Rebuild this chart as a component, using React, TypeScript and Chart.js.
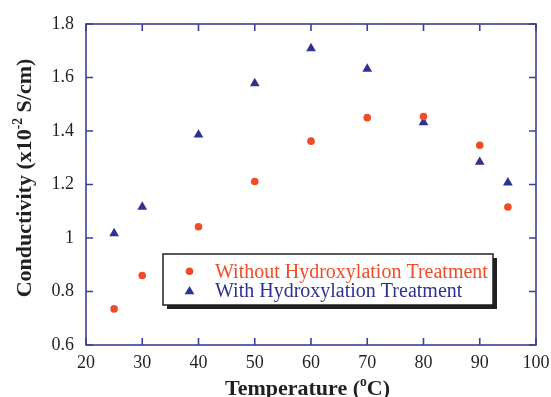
import React, { useEffect, useRef } from 'react';
import { Chart, registerables } from 'chart.js';

Chart.register(...registerables);

const temperatures = [25, 30, 40, 50, 60, 70, 80, 90, 95];
const withoutTreatment = [0.735, 0.86, 1.042, 1.211, 1.362, 1.45, 1.454, 1.347, 1.116];
const withTreatment = [1.017, 1.116, 1.386, 1.578, 1.709, 1.632, 1.432, 1.284, 1.207];
const seriesLabels = ['Without Hydroxylation Treatment', 'With Hydroxylation Treatment'];
const xTickValues = [20, 30, 40, 50, 60, 70, 80, 90, 100];
const xTickLabels = ['20', '30', '40', '50', '60', '70', '80', '90', '100'];
const yTickValues = [0.6, 0.8, 1, 1.2, 1.4, 1.6, 1.8];
const yTickLabels = ['0.6', '0.8', '1', '1.2', '1.4', '1.6', '1.8'];

const RED = '#f04b27';
const BLUE = '#2e3192';
const FRAME = '#3b3f97';
const SERIF = "'Liberation Serif', 'Times New Roman', serif";

function labelFor(values: number[], labels: string[], v: number) {
  const i = values.findIndex((t) => Math.abs(t - v) < 1e-6);
  return i >= 0 ? labels[i] : '';
}

const framePlugin = {
  id: 'frameTicks',
  afterDatasetsDraw(chart: any) {
    const { ctx, chartArea: a, scales } = chart;
    ctx.save();
    ctx.strokeStyle = FRAME;
    ctx.lineWidth = 1.6;
    ctx.strokeRect(a.left, a.top, a.right - a.left, a.bottom - a.top);
    const len = 7;
    ctx.beginPath();
    xTickValues.forEach((v) => {
      const px = scales.x.getPixelForValue(v);
      ctx.moveTo(px, a.bottom);
      ctx.lineTo(px, a.bottom - len);
      ctx.moveTo(px, a.top);
      ctx.lineTo(px, a.top + len);
    });
    yTickValues.forEach((v) => {
      const py = scales.y.getPixelForValue(v);
      ctx.moveTo(a.left, py);
      ctx.lineTo(a.left + len, py);
      ctx.moveTo(a.right, py);
      ctx.lineTo(a.right - len, py);
    });
    ctx.stroke();
    ctx.restore();
  },
};

function drawRich(ctx: any, parts: { t: string; sup?: boolean }[], size: number, startX: number, baseY: number) {
  let x = startX;
  parts.forEach((p) => {
    const fs = p.sup ? size * 0.62 : size;
    ctx.font = `bold ${fs}px ${SERIF}`;
    ctx.fillText(p.t, x, p.sup ? baseY - size * 0.42 : baseY);
    x += ctx.measureText(p.t).width;
  });
}

function richWidth(ctx: any, parts: { t: string; sup?: boolean }[], size: number) {
  let w = 0;
  parts.forEach((p) => {
    const fs = p.sup ? size * 0.62 : size;
    ctx.font = `bold ${fs}px ${SERIF}`;
    w += ctx.measureText(p.t).width;
  });
  return w;
}

const titlesPlugin = {
  id: 'axisTitles',
  afterDraw(chart: any) {
    const { ctx, chartArea: a } = chart;
    ctx.save();
    ctx.fillStyle = '#231f20';
    ctx.textAlign = 'left';
    ctx.textBaseline = 'alphabetic';
    const size = 22;
    const xParts = [{ t: 'Temperature (' }, { t: 'o', sup: true }, { t: 'C)' }];
    const xw = richWidth(ctx, xParts, size);
    const xc = (a.left + a.right) / 2 - 3.5;
    drawRich(ctx, xParts, size, xc - xw / 2, 395);

    const yParts = [{ t: 'Conductivity (x10' }, { t: '-2', sup: true }, { t: ' S/cm)' }];
    const yw = richWidth(ctx, yParts, size);
    ctx.translate(31, 178);
    ctx.rotate(-Math.PI / 2);
    drawRich(ctx, yParts, size, -yw / 2, 0);
    ctx.restore();
  },
};

function drawMarker(ctx: any, style: string, r: number, x: number, y: number) {
  ctx.beginPath();
  if (style === 'triangle') {
    let rad = 0;
    ctx.moveTo(x + Math.sin(rad) * r, y - Math.cos(rad) * r);
    rad += (2 * Math.PI) / 3;
    ctx.lineTo(x + Math.sin(rad) * r, y - Math.cos(rad) * r);
    rad += (2 * Math.PI) / 3;
    ctx.lineTo(x + Math.sin(rad) * r, y - Math.cos(rad) * r);
    ctx.closePath();
  } else {
    ctx.arc(x, y, r, 0, Math.PI * 2);
  }
  ctx.fill();
}

const legendPlugin = {
  id: 'boxLegend',
  afterDraw(chart: any) {
    const { ctx } = chart;
    const bx = 163, by = 254, bw = 330, bh = 51;
    ctx.save();
    ctx.fillStyle = '#231f20';
    ctx.fillRect(bx + 4, by + 4, bw, bh);
    ctx.fillStyle = '#ffffff';
    ctx.fillRect(bx, by, bw, bh);
    ctx.strokeStyle = '#231f20';
    ctx.lineWidth = 1.5;
    ctx.strokeRect(bx, by, bw, bh);
    const rows = [278.3, 297.3];
    chart.data.datasets.forEach((ds: any, i: number) => {
      const y = rows[i];
      ctx.fillStyle = ds.backgroundColor;
      drawMarker(ctx, ds.pointStyle, ds.pointRadius, 189.5, y - 7 + (ds.pointStyle === 'triangle' ? 1.2 : 0));
      ctx.font = `20px ${SERIF}`;
      ctx.textBaseline = 'alphabetic';
      ctx.textAlign = 'left';
      ctx.fillStyle = ds.borderColor;
      ctx.fillText(ds.label, 215, y);
    });
    ctx.restore();
  },
};

export default function App() {
  const ref = useRef<HTMLCanvasElement>(null);
  useEffect(() => {
    if (!ref.current) return;
    const chart = new Chart(ref.current, {
      type: 'scatter',
      data: {
        datasets: [
          {
            label: seriesLabels[0],
            data: temperatures.map((t, i) => ({ x: t, y: withoutTreatment[i] })),
            pointStyle: 'circle',
            pointRadius: 3.8,
            backgroundColor: RED,
            borderColor: RED,
            borderWidth: 0,
          },
          {
            label: seriesLabels[1],
            data: temperatures.map((t, i) => ({ x: t, y: withTreatment[i] })),
            pointStyle: 'triangle',
            pointRadius: 5.6,
            backgroundColor: BLUE,
            borderColor: BLUE,
            borderWidth: 0,
          },
        ],
      },
      options: {
        animation: false,
        responsive: false,
        maintainAspectRatio: false,
        layout: { padding: { left: 0, top: 24, right: 15, bottom: 0 } },
        plugins: { legend: { display: false }, tooltip: { enabled: false } },
        scales: {
          x: {
            type: 'linear',
            min: 20,
            max: 100,
            afterFit: (s: any) => { s.height = 52; s.paddingLeft = 0; s.paddingRight = 0; },
            afterBuildTicks: (s: any) => { s.ticks = xTickValues.map((v) => ({ value: v })); },
            ticks: {
              padding: 7,
              color: '#231f20',
              font: { family: SERIF, size: 18 },
              maxRotation: 0,
              autoSkip: false,
              callback: (v: any) => labelFor(xTickValues, xTickLabels, Number(v)),
            },
            grid: { display: false, drawTicks: false },
            border: { display: false },
          },
          y: {
            type: 'linear',
            min: 0.6,
            max: 1.8,
            afterFit: (s: any) => { s.width = 86; s.paddingTop = 0; s.paddingBottom = 0; },
            afterBuildTicks: (s: any) => { s.ticks = yTickValues.map((v) => ({ value: v })); },
            ticks: {
              padding: 12,
              color: '#231f20',
              font: { family: SERIF, size: 18 },
              autoSkip: false,
              callback: (v: any) => labelFor(yTickValues, yTickLabels, Number(v)),
            },
            grid: { display: false, drawTicks: false },
            border: { display: false },
          },
        },
      },
      plugins: [framePlugin, titlesPlugin, legendPlugin],
    } as any);
    return () => chart.destroy();
  }, []);
  return (
    <div style={{ position: 'absolute', left: 0, top: 0, width: 551, height: 397, background: '#fff' }}>
      <canvas ref={ref} width={551} height={397} style={{ width: 551, height: 397, display: 'block' }} />
    </div>
  );
}
